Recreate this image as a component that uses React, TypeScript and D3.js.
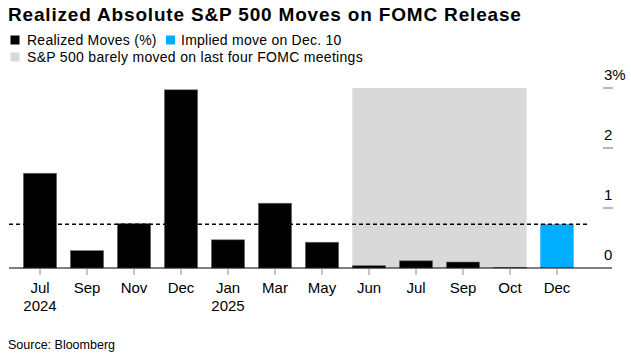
import React from "react";
import * as d3 from "d3";

const categories = ["Jul\n2024", "Sep", "Nov", "Dec", "Jan\n2025", "Mar", "May", "Jun", "Jul ", "Sep ", "Oct", "Dec "];
const realized = [1.58, 0.29, 0.74, 2.97, 0.47, 1.08, 0.43, 0.04, 0.12, 0.1, 0.01, null];
const implied = [null, null, null, null, null, null, null, null, null, null, null, 0.73];
const impliedLevel = 0.73;
const shadedFrom = "Jun";
const shadedTo = "Oct";
const yTicks = [0, 1, 2, 3];

const W = 631;
const H = 355;
const FONT = "'Liberation Sans', Arial, sans-serif";

export default function App() {
  const x = d3.scaleBand<string>().domain(categories).range([16.5, 580.5]).paddingInner(0.29).paddingOuter(0.145);
  const y = d3.scaleLinear().domain([0, 3]).range([268, 88]);
  const bw = x.bandwidth();
  const left = 9;
  const right = 612;

  return (
    <svg width={W} height={H} style={{ position: "absolute", left: 0, top: 0, background: "#fff" }} fontFamily={FONT}>
      <text x={8} y={21} fontSize={19} fontWeight="bold" letterSpacing={0.82} fill="#000">Realized Absolute S&amp;P 500 Moves on FOMC Release</text>
      {/* legend */}
      <rect x={10.5} y={35.5} width={9} height={9} fill="#000" />
      <text x={27} y={44.5} fontSize={14} letterSpacing={0.25} fill="#000">Realized Moves (%)</text>
      <rect x={166} y={35.5} width={9} height={9} fill="#00adff" />
      <text x={181} y={44.5} fontSize={14} letterSpacing={0.25} fill="#000">Implied move on Dec. 10</text>
      <rect x={10.5} y={52.5} width={9} height={9} fill="#d9d9d9" />
      <text x={27} y={61.5} fontSize={14} letterSpacing={0.3} fill="#000">S&amp;P 500 barely moved on last four FOMC meetings</text>

      {/* shaded region */}
      <rect x={x(shadedFrom)!} y={y(3)} width={x(shadedTo)! + bw - x(shadedFrom)!} height={y(0) - y(3)} fill="#d9d9d9" />

      {/* y ticks */}
      {yTicks.map((t) => (
        <g key={t}>
          {t > 0 && <line x1={603} x2={613} y1={y(t)} y2={y(t)} stroke="#888" strokeWidth={1.2} />}
          <text x={604} y={y(t) - 8} fontSize={15} fill="#000">{t === 3 ? "3%" : String(t)}</text>
        </g>
      ))}

      {/* bars */}
      {categories.map((c, i) => {
        const v = realized[i];
        if (v == null) return null;
        return <rect key={c} x={x(c)!} y={y(v)} width={bw} height={y(0) - y(v)} fill="#000" stroke="#777" strokeWidth={0.6} />;
      })}
      {categories.map((c, i) => {
        const v = implied[i];
        if (v == null) return null;
        return <rect key={c + "i"} x={x(c)!} y={y(v)} width={bw} height={y(0) - y(v)} fill="#00adff" />;
      })}

      {/* dashed line */}
      <line x1={left} x2={588} y1={y(impliedLevel)} y2={y(impliedLevel)} stroke="#000" strokeWidth={1.5} strokeDasharray="4,3" />

      {/* baseline */}
      <line x1={left} x2={right} y1={y(0)} y2={y(0)} stroke="#000" strokeWidth={1.2} />

      {/* x ticks and labels */}
      {categories.map((c) => {
        const cx = x(c)! + bw / 2;
        const lines = c.trim().split("\n");
        return (
          <g key={c + "t"}>
            <line x1={cx} x2={cx} y1={269} y2={275} stroke="#888" strokeWidth={1} />
            {lines.map((l, j) => (
              <text key={j} x={cx} y={293 + j * 18} fontSize={15} textAnchor="middle" fill="#000">{l.trim()}</text>
            ))}
          </g>
        );
      })}

      <text x={8} y={349} fontSize={12.5} fill="#000">Source: Bloomberg</text>
    </svg>
  );
}
